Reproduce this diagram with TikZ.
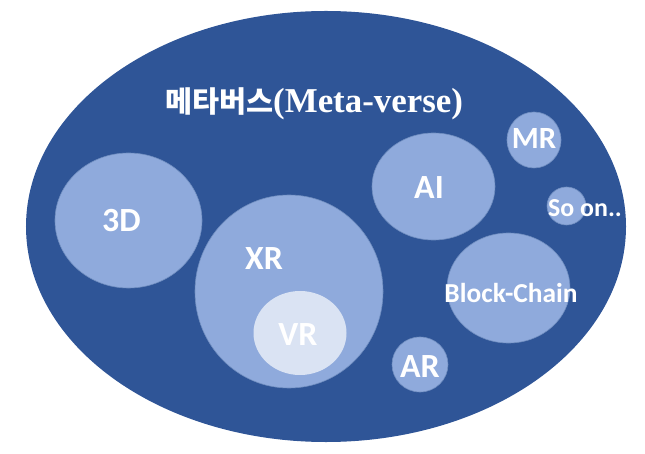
\documentclass[tikz,border=0pt]{standalone}
\usepackage{fontspec}
\usetikzlibrary{shapes.geometric}
\newfontfamily\krfont{Noto Sans CJK KR}
\newfontfamily\lblfont{Carlito}
\newfontfamily\titleserif{Liberation Serif}
\definecolor{metablue}{RGB}{47,85,151}
\definecolor{bubblue}{RGB}{143,170,220}
\definecolor{vrblue}{RGB}{218,227,243}
\definecolor{bubedge}{RGB}{112,142,192}
\tikzset{
  bub/.style={ellipse, inner sep=0pt, fill=bubblue, draw=bubedge, line width=0.6bp},
  lbl/.style={anchor=base, inner sep=0pt, text=white, font=\lblfont\bfseries\fontsize{34}{36}\selectfont},
}
\begin{document}
\begin{tikzpicture}[x=1bp,y=-1bp]
\useasboundingbox (0,0) rectangle (645,454);
\node[ellipse, inner sep=0pt, fill=metablue, minimum width=600bp, minimum height=431bp] (meta) at (326,226.5) {};
\node[anchor=base, inner sep=0pt, text=white] (title) at (314,113)
  {\krfont\bfseries\fontsize{29.5}{32}\selectfont 메타버스\titleserif\bfseries\fontsize{35}{36}\selectfont(Meta-verse)};
\node[bub, minimum width=147bp, minimum height=135bp] (d3) at (128.5,220.5) {};
\node[bub, minimum width=188bp, minimum height=193bp] (xr) at (289,291.5) {};
\node[bub, fill=vrblue, draw=none, minimum width=93bp, minimum height=84bp] (vr) at (300,333) {};
\node[bub, minimum width=123bp, minimum height=107bp] (ai) at (433.5,186.5) {};
\node[bub, minimum width=54bp, minimum height=56bp] (mr) at (534,140) {};
\node[bub, minimum width=39bp, minimum height=38bp] (so) at (566.5,206) {};
\node[bub, minimum width=123bp, minimum height=110bp] (bc) at (508.5,288) {};
\node[bub, minimum width=56bp, minimum height=55bp] (ar) at (420,364.5) {};
\node[lbl] (t3d) at (121.5,232) {3D};
\node[lbl] (txr) at (264,270) {XR};
\node[lbl] (tvr) at (298,345) {VR};
\node[lbl] (tai) at (429,199) {AI};
\node[lbl, font=\lblfont\bfseries\fontsize{31}{33}\selectfont] (tmr) at (534,149) {MR};
\node[lbl] (tar) at (420,377) {AR};
\node[lbl, font=\lblfont\bfseries\fontsize{27.5}{30}\selectfont] (tbc) at (511,303) {Block-Chain};
\node[lbl, font=\lblfont\bfseries\fontsize{26}{29}\selectfont] (tso) at (585,217) {So on..};
\end{tikzpicture}
\end{document}
